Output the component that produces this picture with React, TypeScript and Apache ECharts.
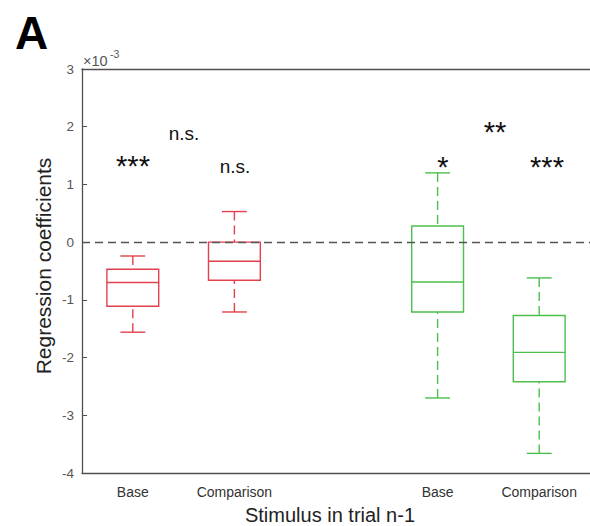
import React, { useEffect, useRef } from "react";
import * as echarts from "echarts";

const categories = ["Base", "Comparison", "", "Base", "Comparison"];
const whiskerLow = [-1.56, -1.21, null, -2.7, -3.66];
const quartile1 = [-1.11, -0.66, null, -1.21, -2.42];
const medians = [-0.7, -0.33, null, -0.69, -1.91];
const quartile3 = [-0.47, 0.0, null, 0.28, -1.27];
const whiskerHigh = [-0.24, 0.53, null, 1.2, -0.62];
const groupColors = ["#e2404c", "#e2404c", "", "#4cbf4c", "#4cbf4c"];
const yTicks = [-4, -3, -2, -1, 0, 1, 2, 3];

const FONT = "'Liberation Sans', Arial, Helvetica, sans-serif";

export default function App() {
  const ref = useRef<HTMLDivElement>(null);
  useEffect(() => {
    if (!ref.current) return;
    const chart = echarts.init(ref.current, null, { renderer: "svg" });
    const boxData: any[] = [];
    categories.forEach((c, i) => {
      if (whiskerLow[i] === null) return;
      boxData.push({
        value: [i, whiskerLow[i], quartile1[i], medians[i], quartile3[i], whiskerHigh[i]],
      });
    });
    const axisGray = "#505050";
    const option: any = {
      animation: false,
      textStyle: { fontFamily: FONT },
      grid: { left: 82, top: 69, width: 509, height: 404 },
      xAxis: [
        {
          type: "category",
          data: categories,
          boundaryGap: true,
          axisLine: { onZero: false, lineStyle: { color: axisGray, width: 1.3 } },
          axisTick: {
            inside: true,
            alignWithLabel: true,
            length: 5,
            interval: (i: number) => categories[i] !== "",
            lineStyle: { color: axisGray },
          },
          axisLabel: { fontSize: 14, color: "#333", margin: 12, fontFamily: FONT, interval: 0 },
          splitLine: { show: false },
        },
        {
          type: "category",
          data: categories,
          position: "top",
          boundaryGap: true,
          axisLine: { onZero: false, lineStyle: { color: axisGray, width: 1.3 } },
          axisTick: {
            inside: true,
            alignWithLabel: true,
            length: 5,
            interval: (i: number) => categories[i] !== "",
            lineStyle: { color: axisGray },
          },
          axisLabel: { show: false },
          splitLine: { show: false },
        },
      ],
      yAxis: {
        type: "value",
        min: yTicks[0],
        max: yTicks[yTicks.length - 1],
        interval: 1,
        axisLine: { show: true, onZero: false, lineStyle: { color: axisGray, width: 1.3 } },
        axisTick: { show: true, inside: true, length: 5, lineStyle: { color: axisGray } },
        axisLabel: { fontSize: 13.5, color: "#555", margin: 8, fontFamily: FONT },
        splitLine: { show: false },
      },
      series: [
        {
          type: "custom",
          xAxisIndex: 0,
          encode: { x: 0, y: [1, 2, 3, 4, 5] },
          data: boxData,
          renderItem: (params: any, api: any) => {
            const x = api.value(0);
            const lo = api.coord([x, api.value(1)]);
            const b1 = api.coord([x, api.value(2)]);
            const md = api.coord([x, api.value(3)]);
            const b3 = api.coord([x, api.value(4)]);
            const hi = api.coord([x, api.value(5)]);
            const color = groupColors[x];
            const bw = api.size([1, 0])[0] * 0.51;
            const cw = bw * 0.48;
            const cx = lo[0];
            const solid = { stroke: color, lineWidth: 1.4, fill: "none" };
            const dashed = { stroke: color, lineWidth: 1.4, lineDash: [9, 5] };
            return {
              type: "group",
              children: [
                { type: "line", shape: { x1: cx, y1: hi[1], x2: cx, y2: b3[1] }, style: dashed },
                { type: "line", shape: { x1: cx, y1: lo[1], x2: cx, y2: b1[1] }, style: dashed },
                { type: "line", shape: { x1: cx - cw / 2, y1: hi[1], x2: cx + cw / 2, y2: hi[1] }, style: solid },
                { type: "line", shape: { x1: cx - cw / 2, y1: lo[1], x2: cx + cw / 2, y2: lo[1] }, style: solid },
                { type: "rect", shape: { x: cx - bw / 2, y: b3[1], width: bw, height: b1[1] - b3[1] }, style: solid },
                { type: "line", shape: { x1: cx - bw / 2, y1: md[1], x2: cx + bw / 2, y2: md[1] }, style: solid },
              ],
            };
          },
          markLine: {
            silent: true,
            symbol: "none",
            data: [{ yAxis: 0 }],
            label: { show: false },
            lineStyle: { color: "#555", type: [8, 5], width: 1.4 },
          },
          z: 3,
        },
      ],
      graphic: [
        { type: "text", left: 15, top: 10, style: { text: "A", font: `bold 46px ${FONT}`, fill: "#000" } },
        { type: "text", x: 83, y: 61, style: { text: "×10", font: `14.5px ${FONT}`, fill: "#555", textVerticalAlign: "middle" } },
        { type: "text", x: 110, y: 54, style: { text: "-3", font: `10.5px ${FONT}`, fill: "#555", textVerticalAlign: "middle" } },
        {
          type: "text",
          x: 43,
          y: 266,
          rotation: Math.PI / 2,
          style: {
            text: "Regression coefficients",
            font: `21px ${FONT}`,
            fill: "#222",
            textAlign: "center",
            textVerticalAlign: "middle",
          },
        },
        {
          type: "text",
          x: 330,
          y: 515,
          style: {
            text: "Stimulus in trial n-1",
            font: `20px ${FONT}`,
            fill: "#222",
            textAlign: "center",
            textVerticalAlign: "middle",
          },
        },
        { type: "text", x: 133, y: 166, style: { text: "***", font: `29px ${FONT}`, fill: "#111", textAlign: "center", textVerticalAlign: "middle" } },
        { type: "text", x: 184, y: 133, style: { text: "n.s.", font: `19px ${FONT}`, fill: "#111", textAlign: "center", textVerticalAlign: "middle" } },
        { type: "text", x: 235, y: 166, style: { text: "n.s.", font: `19px ${FONT}`, fill: "#111", textAlign: "center", textVerticalAlign: "middle" } },
        { type: "text", x: 443, y: 167, style: { text: "*", font: `29px ${FONT}`, fill: "#111", textAlign: "center", textVerticalAlign: "middle" } },
        { type: "text", x: 547, y: 167, style: { text: "***", font: `29px ${FONT}`, fill: "#111", textAlign: "center", textVerticalAlign: "middle" } },
        { type: "text", x: 495, y: 132, style: { text: "**", font: `29px ${FONT}`, fill: "#111", textAlign: "center", textVerticalAlign: "middle" } },
      ],
    };
    chart.setOption(option);
    return () => chart.dispose();
  }, []);
  return (
    <div
      ref={ref}
      style={{ position: "fixed", left: 0, top: 0, width: 590, height: 526, background: "#fff" }}
    />
  );
}
